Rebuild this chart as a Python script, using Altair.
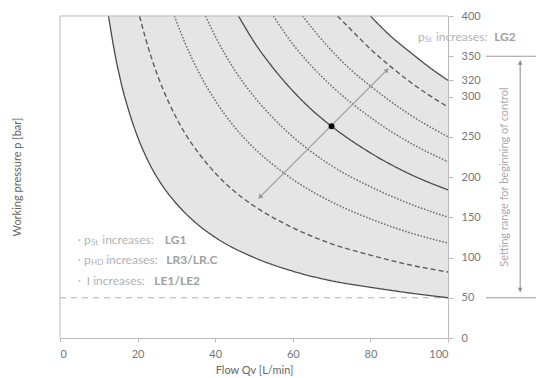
import altair as alt
import pandas as pd

# ---- curve readings (Flow Q [L/min], pressure p [bar]) ----
Q1 = [12.5, 14, 16, 18, 20, 23, 26, 30, 35, 40, 50, 60, 70, 80, 90, 100]
P1 = [400, 357, 312, 278, 250, 217, 192, 167, 143, 125, 100, 83, 71, 63, 56, 50]
Q2 = [20.5, 22, 25, 28, 32, 36, 40, 45, 50, 60, 70, 80, 90, 100]
P2 = [400, 373, 328, 293, 256, 228, 205, 182, 164, 137, 117, 103, 91, 82]
Q3 = [29.5, 32, 36, 40, 45, 50, 55, 60, 70, 80, 90, 100]
P3 = [400, 369, 328, 295, 262, 236, 215, 197, 169, 148, 131, 118]
Q4 = [37.5, 40, 45, 50, 55, 60, 70, 80, 90, 100]
P4 = [400, 375, 333, 300, 273, 250, 214, 188, 167, 150]
Q5 = [46, 50, 55, 60, 65, 70, 80, 90, 100]
P5 = [400, 368, 335, 307, 283, 263, 230, 204, 184]
Q6 = [55, 60, 65, 70, 80, 90, 100]
P6 = [400, 365, 337, 313, 274, 243, 219]
Q7 = [62.5, 66, 70, 75, 80, 90, 100]
P7 = [400, 379, 357, 333, 313, 278, 250]
Q8 = [71.5, 75, 80, 85, 90, 95, 100]
P8 = [400, 383, 359, 338, 319, 302, 287]
Q9 = [80, 85, 90, 95, 100]
P9 = [400, 376, 356, 337, 320]
STYLES = ["solid", "dashed", "dotted", "dotted", "solid", "dotted", "dotted", "dashed", "solid"]

X_TICKS = [0, 20, 40, 60, 80, 100]
Y_TICKS = [0, 50, 100, 150, 200, 250, 300, 320, 350, 400]

OP_POINT_Q = [70]
OP_POINT_P = [263]
ARROW_Q = [51.5, 84.3]
ARROW_P = [175, 333]
RANGE_LOW = 50
RANGE_HIGH = 350

FONT = "Lato"

rows = []
for i, (qs, ps, st) in enumerate(zip([Q1, Q2, Q3, Q4, Q5, Q6, Q7, Q8, Q9],
                                     [P1, P2, P3, P4, P5, P6, P7, P8, P9], STYLES)):
    for q, p in zip(qs, ps):
        rows.append({"curve": i, "style": st, "Q": q, "p": p})
curves = pd.DataFrame(rows)

xs = alt.Scale(domain=[0, 100], nice=False)
ys = alt.Scale(domain=[0, 400], nice=False)


def X(field="Q"):
    return alt.X(f"{field}:Q", scale=xs,
                 axis=alt.Axis(values=X_TICKS, title="Flow Qv [L/min]", grid=False,
                               tickSize=4, labelPadding=6, titlePadding=5, zindex=1,
                               domainColor="#bbb", tickColor="#bbb"))


def Y(field="p"):
    return alt.Y(f"{field}:Q", scale=ys,
                 axis=alt.Axis(values=Y_TICKS, orient="right", title=None, grid=False,
                               tickSize=5, labelPadding=8, zindex=1, labelFlush=False,
                               domainColor="#bbb", tickColor="#bbb"))


FILL = "#e5e5e5"

gray_rect = alt.Chart(pd.DataFrame({"Q": [0], "Q2": [Q9[0]], "p": [400], "p2": [0]})).mark_rect(
    color=FILL, stroke=FILL, strokeWidth=1).encode(x=X(), x2="Q2:Q", y=Y(), y2="p2:Q")
gray_area = alt.Chart(pd.DataFrame({"Q": Q9, "p": P9})).mark_area(
    color=FILL, interpolate="monotone").encode(x=X(), y=Y())
white_rect = alt.Chart(pd.DataFrame({"Q": [0], "Q2": [Q1[0]], "p": [400], "p2": [0]})).mark_rect(
    color="white", stroke="white", strokeWidth=1.2).encode(x=X(), x2="Q2:Q", y=Y(), y2="p2:Q")
white_area = alt.Chart(pd.DataFrame({"Q": Q1, "p": P1})).mark_area(
    color="white", interpolate="monotone").encode(x=X(), y=Y())

min_line = alt.Chart(pd.DataFrame({"Q": [0, 100], "p": [RANGE_LOW, RANGE_LOW]})).mark_line(
    color="#b0b0b0", strokeDash=[6, 5], strokeWidth=1.2).encode(x=X(), y=Y())

lines = alt.Chart(curves).mark_line(interpolate="monotone").encode(
    x=X(), y=Y(), detail="curve:N",
    color=alt.Color("style:N", scale=alt.Scale(domain=["solid", "dashed", "dotted"],
                                               range=["#4a4a4a", "#5e5e5e", "#707070"]), legend=None),
    strokeDash=alt.StrokeDash("style:N", scale=alt.Scale(domain=["solid", "dashed", "dotted"],
                                                         range=[[1, 0], [5, 3], [1.6, 1.6]]), legend=None),
    strokeWidth=alt.StrokeWidth("style:N", scale=alt.Scale(domain=["solid", "dashed", "dotted"],
                                                           range=[1.3, 1.5, 1.2]), legend=None),
)

arrow_line = alt.Chart(pd.DataFrame({"Q": ARROW_Q, "p": ARROW_P})).mark_line(
    color="#9a9a9a", strokeWidth=1.2).encode(x=X(), y=Y())
arrow_heads = alt.Chart(pd.DataFrame({"Q": ARROW_Q, "p": ARROW_P, "ang": [225, 45]})).mark_point(
    shape="triangle-up", filled=True, color="#9a9a9a", size=30, opacity=1).encode(
    x=X(), y=Y(), angle=alt.Angle("ang:Q", scale=None))

op_point = alt.Chart(pd.DataFrame({"Q": OP_POINT_Q, "p": OP_POINT_P})).mark_point(
    shape="circle", filled=True, color="black", size=35, opacity=1).encode(x=X(), y=Y())

# border (left and top)
border = alt.Chart(pd.DataFrame({"Q": [0, 0, 100], "p": [0, 400, 400]})).mark_line(
    color="#bbb", strokeWidth=1).encode(x=X(), y=Y(), order=alt.Order("p:Q"))

# setting range bracket (right margin)
bracket = alt.Chart(pd.DataFrame({"Q": [109.8, 109.8], "Q2": [122.7, 122.7],
                                  "p": [RANGE_HIGH, RANGE_LOW]})).mark_rule(
    color="#9a9a9a", strokeWidth=1).encode(x=X(), x2="Q2:Q", y=Y())
range_arrow = alt.Chart(pd.DataFrame({"Q": [118.6], "p": [345], "p2": [57]})).mark_rule(
    color="#8a8a8a", strokeWidth=1).encode(x=X(), y=Y(), y2="p2:Q")
range_heads = alt.Chart(pd.DataFrame({"Q": [118.6, 118.6], "p": [342, 60], "ang": [0, 180]})).mark_point(
    shape="triangle-up", filled=True, color="#8a8a8a", size=22, opacity=1).encode(
    x=X(), y=Y(), angle=alt.Angle("ang:Q", scale=None))
range_text = alt.Chart(pd.DataFrame({"Q": [114.6], "p": [200],
                                     "t": ["Setting range for beginning of control"]})).mark_text(
    angle=270, font=FONT, fontSize=11, color="#aaa", baseline="middle", align="center").encode(
    x=X(), y=Y(), text="t:N")

y_title = alt.Chart(pd.DataFrame({"Q": [-10.8], "p": [200], "t": ["Working pressure p [bar]"]})).mark_text(
    angle=270, font=FONT, fontSize=11, color="#666", baseline="middle", align="center").encode(
    x=X(), y=Y(), text="t:N")

# annotations
ann_normal = pd.DataFrame({
    "Q": [4.6, 6.2, 10.9, 4.6, 6.2, 11.9, 4.6, 6.9, 92.3, 96.9],
    "p": [122, 122, 122, 97, 97, 97, 71, 71, 374, 374],
    "t": ["·", "p", "increases:", "·", "p", "increases:", "·", "I increases:", "p", "increases:"],
})
ann_sub = pd.DataFrame({
    "Q": [8.0, 8.0, 94.0],
    "p": [122, 97, 374],
    "t": ["St", "HD", "St"],
})
ann_bold = pd.DataFrame({
    "Q": [27.0, 27.4, 24.3, 111.9],
    "p": [122, 97, 71, 374],
    "t": ["LG1", "LR3/LR.C", "LE1/LE2", "LG2"],
})
t_normal = alt.Chart(ann_normal).mark_text(
    font=FONT, fontSize=12, color="#b3b3b3", align="left", baseline="middle").encode(
    x=X(), y=Y(), text="t:N")
t_sub = alt.Chart(ann_sub).mark_text(
    font=FONT, fontSize=8, color="#b3b3b3", align="left", baseline="middle", dy=3).encode(
    x=X(), y=Y(), text="t:N")
t_bold = alt.Chart(ann_bold).mark_text(
    font=FONT, fontSize=12, fontWeight="bold", color="#a0a0a0", align="left", baseline="middle").encode(
    x=X(), y=Y(), text="t:N")

chart = alt.layer(
    gray_rect, gray_area, white_rect, white_area, min_line, lines,
    arrow_line, arrow_heads, op_point, border,
    bracket, range_arrow, range_heads, range_text, y_title,
    t_normal, t_sub, t_bold,
).properties(
    width=388, height=322,
    autosize=alt.AutoSizeParams(type="none"),
    padding={"left": 60, "top": 16, "right": 88, "bottom": 40},
    background="white",
).configure_view(stroke=None).configure_axis(
    labelFont=FONT, titleFont=FONT, labelFontSize=11, titleFontSize=11,
    labelColor="#777", titleColor="#666", titleFontWeight="normal",
)

chart.save("out.html", embed_options={"renderer": "svg", "actions": False})
